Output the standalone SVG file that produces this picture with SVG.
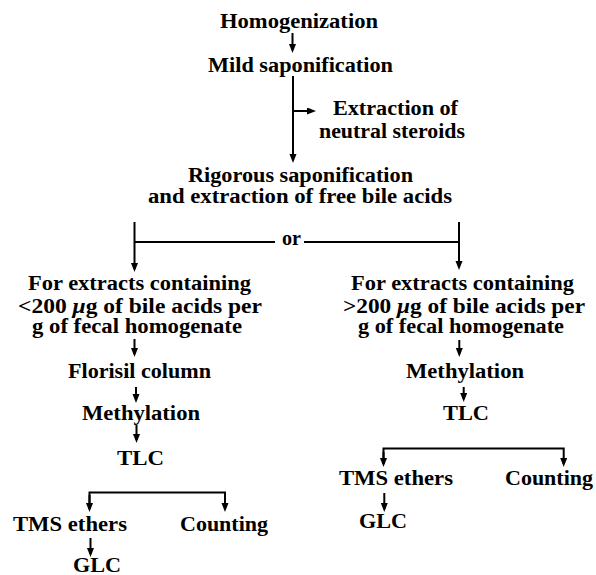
<svg xmlns="http://www.w3.org/2000/svg" width="596" height="575" viewBox="0 0 596 575" font-family="'Liberation Serif', 'DejaVu Serif', serif">
<style>
text { font-family: "Liberation Serif", "DejaVu Serif", serif; font-weight: 700; font-size: 20px; fill: #000; }
.c { fill: none; stroke: #000; stroke-width: 2; }
.mu { font-style: italic; }
</style>
<defs>
<marker id="ah" markerUnits="userSpaceOnUse" markerWidth="10" markerHeight="8" refX="6" refY="3.5" orient="auto">
<path d="M0,0 L9,3.5 L0,7 z" fill="#000"/>
</marker>
</defs>
<rect width="596" height="575" fill="#fff"/>

<g id="connectors">
<path class="c" d="M292.5,33 V50" marker-end="url(#ah)"/>
<path class="c" d="M293,76 V160" marker-end="url(#ah)"/>
<path class="c" d="M293,111 H313" marker-end="url(#ah)"/>
<path class="c" d="M134.5,222 V269" marker-end="url(#ah)"/>
<path class="c" d="M459,222 V267" marker-end="url(#ah)"/>
<path class="c" d="M134.5,242 H275"/>
<path class="c" d="M304,242 H459"/>
<path class="c" d="M134.5,339 V354" marker-end="url(#ah)"/>
<path class="c" d="M136,387 V400" marker-end="url(#ah)"/>
<path class="c" d="M136.5,425 V440" marker-end="url(#ah)"/>
<path class="c" d="M89.5,509 V492.5 H225 V509" marker-end="url(#ah)"/>
<path class="c" d="M89.5,495 V509" marker-end="url(#ah)"/>
<path class="c" d="M90.5,538 V554" marker-end="url(#ah)"/>
<path class="c" d="M459.3,340 V354" marker-end="url(#ah)"/>
<path class="c" d="M463.7,387 V399" marker-end="url(#ah)"/>
<path class="c" d="M383.5,464 V448.5 H563.7 V464" marker-end="url(#ah)"/>
<path class="c" d="M383.5,452 V464" marker-end="url(#ah)"/>
<path class="c" d="M384.3,493 V509" marker-end="url(#ah)"/>
</g>

<g id="n-homogenization"><text x="220" y="28" textLength="158" lengthAdjust="spacingAndGlyphs">Homogenization</text></g>
<g id="n-mild"><text x="208" y="72" textLength="185" lengthAdjust="spacingAndGlyphs">Mild saponification</text></g>
<g id="n-neutral">
<text x="333" y="115" textLength="125" lengthAdjust="spacingAndGlyphs">Extraction of</text>
<text x="319" y="138" textLength="146" lengthAdjust="spacingAndGlyphs">neutral steroids</text>
</g>
<g id="n-rigorous">
<text x="188" y="182" textLength="225" lengthAdjust="spacingAndGlyphs">Rigorous saponification</text>
<text x="148" y="203" textLength="304" lengthAdjust="spacingAndGlyphs">and extraction of free bile acids</text>
</g>
<g id="n-or"><text x="282" y="245" textLength="19" lengthAdjust="spacingAndGlyphs">or</text></g>

<g id="n-left-extracts">
<text x="28" y="290" textLength="223" lengthAdjust="spacingAndGlyphs">For extracts containing</text>
<text x="18" y="313" textLength="244" lengthAdjust="spacingAndGlyphs">&lt;200 <tspan class="mu">μ</tspan>g of bile acids per</text>
<text x="32" y="333" textLength="210" lengthAdjust="spacingAndGlyphs">g of fecal homogenate</text>
</g>
<g id="n-florisil"><text x="68" y="378" textLength="143" lengthAdjust="spacingAndGlyphs">Florisil column</text></g>
<g id="n-left-methylation"><text x="82" y="420" textLength="118" lengthAdjust="spacingAndGlyphs">Methylation</text></g>
<g id="n-left-tlc"><text x="117" y="465" textLength="47" lengthAdjust="spacingAndGlyphs">TLC</text></g>
<g id="n-left-tms"><text x="13" y="531" textLength="114" lengthAdjust="spacingAndGlyphs">TMS ethers</text></g>
<g id="n-left-counting"><text x="180" y="531" textLength="88" lengthAdjust="spacingAndGlyphs">Counting</text></g>
<g id="n-left-glc"><text x="73" y="572" textLength="48" lengthAdjust="spacingAndGlyphs">GLC</text></g>

<g id="n-right-extracts">
<text x="351" y="290" textLength="223" lengthAdjust="spacingAndGlyphs">For extracts containing</text>
<text x="343" y="313" textLength="242" lengthAdjust="spacingAndGlyphs">&gt;200 <tspan class="mu">μ</tspan>g of bile acids per</text>
<text x="358" y="333" textLength="206" lengthAdjust="spacingAndGlyphs">g of fecal homogenate</text>
</g>
<g id="n-right-methylation"><text x="406" y="378" textLength="118" lengthAdjust="spacingAndGlyphs">Methylation</text></g>
<g id="n-right-tlc"><text x="443" y="420" textLength="46" lengthAdjust="spacingAndGlyphs">TLC</text></g>
<g id="n-right-tms"><text x="339" y="485" textLength="114" lengthAdjust="spacingAndGlyphs">TMS ethers</text></g>
<g id="n-right-counting"><text x="505" y="485" textLength="88" lengthAdjust="spacingAndGlyphs">Counting</text></g>
<g id="n-right-glc"><text x="359" y="528" textLength="48" lengthAdjust="spacingAndGlyphs">GLC</text></g>
</svg>
